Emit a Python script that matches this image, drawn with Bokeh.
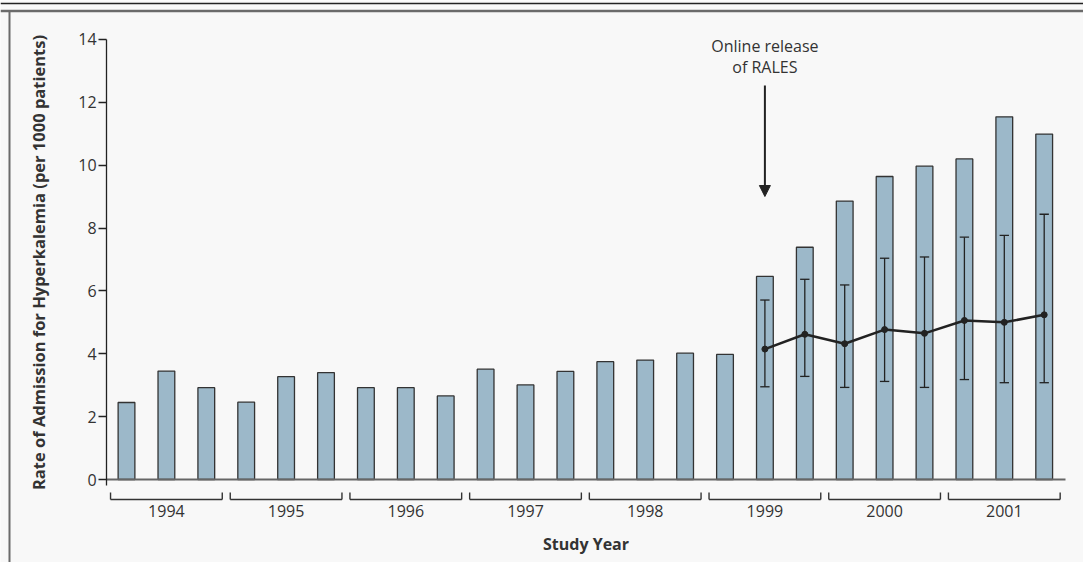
from bokeh.plotting import figure
from bokeh.models import (LinearAxis, FixedTicker, Range1d, Span, Label, Arrow,
                          NormalHead, ColumnDataSource)
from bokeh.embed import file_html
from bokeh.resources import INLINE

# ---------------- data ----------------
years = ["1994", "1995", "1996", "1997", "1998", "1999", "2000", "2001"]
rates = [2.45, 3.45, 2.92, 2.46, 3.27, 3.40, 2.92, 2.92, 2.66, 3.51, 3.01, 3.44,
         3.75, 3.80, 4.02, 3.98, 6.46, 7.39, 8.86, 9.64, 9.97, 10.20, 11.54, 10.99]
expected_start = 16
expected = [4.15, 4.62, 4.32, 4.77, 4.65, 5.06, 5.00, 5.24]
ci_upper = [5.71, 6.37, 6.19, 7.04, 7.08, 7.71, 7.77, 8.44]
ci_lower = [2.95, 3.28, 2.93, 3.12, 2.93, 3.18, 3.08, 3.08]
y_ticks = [0, 2, 4, 6, 8, 10, 12, 14]
annotation_lines = ["Online release", "of RALES"]

# ---------------- layout ----------------
W, H = 1083, 562
PXX, X0 = 39.9, 126.0      # px per bar, canvas x of first bar
PXY, Y0 = 31.43, 479.0     # px per unit, canvas y of zero

def px2x(cx):
    return (cx - X0) / PXX

def px2y(cy):
    return (Y0 - cy) / PXY

FONT = "Open Sans"
FS = "16px"
BG = "#f8f8f8"

p = figure(width=W, height=H, output_backend="svg", toolbar_location=None,
           x_range=Range1d(px2x(0), px2x(W)), y_range=Range1d(px2y(H), px2y(0)),
           x_axis_location=None, y_axis_location=None,
           min_border=0, min_border_left=0, min_border_right=0,
           min_border_top=0, min_border_bottom=0)
p.background_fill_color = BG
p.border_fill_color = BG
p.outline_line_color = None
p.xgrid.visible = False
p.ygrid.visible = False

n = len(rates)
idx = list(range(n))

# bars
src = ColumnDataSource(dict(x=idx, top=rates))
p.vbar(x="x", top="top", bottom=0, width=0.42, source=src,
       fill_color="#9cb8c9", line_color="#333333", line_width=1.3)

# error bars + expected line
ex = list(range(expected_start, expected_start + len(expected)))
p.segment(x0=ex, x1=ex, y0=ci_lower, y1=ci_upper, line_color="#222222", line_width=1.3)
cap = 0.117
p.segment(x0=[x - cap for x in ex], x1=[x + cap for x in ex], y0=ci_upper, y1=ci_upper,
          line_color="#222222", line_width=1.3)
p.segment(x0=[x - cap for x in ex], x1=[x + cap for x in ex], y0=ci_lower, y1=ci_lower,
          line_color="#222222", line_width=1.3)
p.line(ex, expected, line_color="#222222", line_width=2.5)
p.scatter(ex, expected, size=6, fill_color="#222222", line_color="#222222")

# year brackets
ng = len(years)
bl = [3 * k - 0.4 for k in range(ng)]
br = [3 * k + 2.4 for k in range(ng)]
yb = px2y(499)
yt = px2y(492)
p.segment(x0=bl, x1=br, y0=[yb] * ng, y1=[yb] * ng, line_color="#333333", line_width=1.4)
p.segment(x0=bl, x1=bl, y0=[yb] * ng, y1=[yt] * ng, line_color="#333333", line_width=1.4)
p.segment(x0=br, x1=br, y0=[yb] * ng, y1=[yt] * ng, line_color="#333333", line_width=1.4)

# y axis
yax = LinearAxis(fixed_location=-0.5, bounds=(-0.2, 14),
                 ticker=FixedTicker(ticks=y_ticks),
                 axis_label="Rate of Admission for Hyperkalemia (per 1000 patients)")
yax.axis_line_color = "#222222"
yax.axis_line_width = 1.3
yax.major_tick_line_color = "#222222"
yax.major_tick_line_width = 1.3
yax.major_tick_in = 0
yax.major_tick_out = 8
yax.minor_tick_line_color = None
yax.major_label_text_font = FONT
yax.major_label_text_font_size = FS
yax.major_label_text_color = "#333333"
yax.major_label_standoff = 2
yax.axis_label_text_font = FONT
yax.axis_label_text_font_size = "16.5px"
yax.axis_label_text_font_style = "bold"
yax.axis_label_text_color = "#333333"
yax.axis_label_standoff = 25
p.add_layout(yax, "left")

# x axis
centers = [3 * k + 1 for k in range(ng)]
xax = LinearAxis(fixed_location=0, bounds=(-0.5, 23.53),
                 ticker=FixedTicker(ticks=centers),
                 major_label_overrides={c: y for c, y in zip(centers, years)},
                 axis_label="Study Year")
xax.axis_line_color = "#666666"
xax.axis_line_width = 1.8
xax.major_tick_line_color = None
xax.major_tick_in = 0
xax.major_tick_out = 0
xax.minor_tick_line_color = None
xax.major_label_text_font = FONT
xax.major_label_text_font_size = FS
xax.major_label_text_color = "#333333"
xax.major_label_standoff = 25
xax.axis_label_text_font = FONT
xax.axis_label_text_font_size = FS
xax.axis_label_text_font_style = "bold"
xax.axis_label_text_color = "#333333"
xax.axis_label_standoff = 13
p.add_layout(xax, "below")

# annotation arrow and text
p.add_layout(Arrow(end=NormalHead(size=11, fill_color="#222222", line_color="#222222"),
                   x_start=expected_start, y_start=px2y(85), x_end=expected_start,
                   y_end=px2y(196), line_color="#222222", line_width=2))
for i, t in enumerate(annotation_lines):
    p.add_layout(Label(x=expected_start, y=px2y(45 + 21 * i), text=t, text_align="center",
                       text_baseline="middle", text_font=FONT, text_font_size=FS,
                       text_color="#333333"))

# frame lines
p.add_layout(Span(location=px2y(3), dimension="width", line_color="#222222", line_width=1.5))
p.add_layout(Span(location=px2y(10.5), dimension="width", line_color="#6b6b6b", line_width=2.5))
p.segment(x0=[px2x(9)], x1=[px2x(9)], y0=[px2y(10)], y1=[px2y(H)],
          line_color="#6b6b6b", line_width=2)

open("out.html", "w").write(file_html(p, INLINE))
